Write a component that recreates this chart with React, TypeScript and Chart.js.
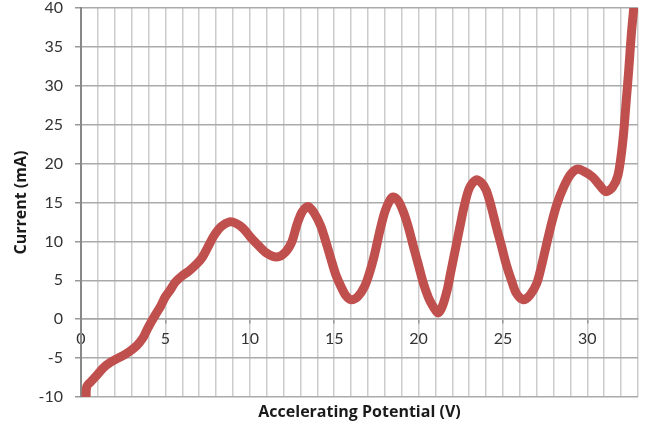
import React, { useEffect, useRef } from "react";
import { Chart, registerables } from "chart.js";

Chart.register(...registerables);

// Accelerating potential (V)
const voltage = [
  0.3, 0.35, 0.6, 0.9, 1.3, 1.7, 2.2, 2.7, 3.3, 3.7, 3.9, 4.2, 4.5, 4.7, 5.0, 5.3, 5.6, 6.0, 6.4, 6.9,
  7.2, 7.5, 7.9, 8.3, 8.8, 9.2, 9.6, 10.1, 10.5, 11.0, 11.6, 12.1, 12.5, 12.8, 13.1, 13.45, 13.8, 14.2, 14.5, 14.8,
  15.1, 15.4, 15.7, 16.0, 16.4, 16.8, 17.1, 17.4, 17.7, 18.0, 18.3, 18.5, 18.8, 19.1, 19.4, 19.7, 20.0, 20.3, 20.6, 20.9,
  21.15, 21.4, 21.7, 21.9, 22.2, 22.45, 22.7, 23.0, 23.4, 23.7, 24.0, 24.3, 24.6, 24.9, 25.2, 25.5, 25.8, 26.2, 26.6, 27.0,
  27.3, 27.6, 27.9, 28.2, 28.6, 29.0, 29.4, 29.8, 30.3, 30.7, 31.1, 31.5, 31.8, 32.0, 32.15, 32.3, 32.45, 32.6, 32.75,
];
// Current (mA)
const current = [
  -10, -8.6, -8.0, -7.3, -6.3, -5.6, -5.0, -4.4, -3.4, -2.3, -1.4, -0.2, 0.9, 1.6, 2.9, 3.8, 4.8, 5.6, 6.2, 7.2,
  8.0, 9.2, 10.8, 11.9, 12.5, 12.3, 11.7, 10.4, 9.5, 8.5, 8.0, 8.6, 10.0, 12.2, 13.8, 14.5, 13.7, 12.0, 10.0, 7.8,
  5.7, 4.2, 3.0, 2.5, 2.9, 4.2, 6.0, 8.4, 11.3, 13.8, 15.3, 15.7, 15.2, 13.8, 11.8, 9.3, 6.9, 4.5, 2.7, 1.5,
  0.8, 1.6, 3.8, 6.0, 9.2, 11.9, 14.5, 16.8, 17.9, 17.6, 16.6, 14.5, 11.9, 9.5, 7.0, 5.0, 3.3, 2.5, 3.1, 4.6,
  7.0, 9.8, 12.5, 14.8, 17.0, 18.6, 19.3, 19.0, 18.3, 17.3, 16.4, 17.0, 18.4, 21.0, 24.0, 28.0, 32.0, 36.5, 40,
];

const xLabeled = [0, 5, 10, 15, 20, 25, 30];
const xTitle = "Accelerating Potential (V)";
const yTitle = "Current (mA)";

const FONT = "Lato, 'Open Sans', sans-serif";
const TITLE_FONT = "'Open Sans', Lato, sans-serif";

const titlePlugin = {
  id: "axisTitles",
  afterDraw(chart: any) {
    const ctx = chart.ctx;
    const area = chart.chartArea;
    ctx.save();
    ctx.fillStyle = "#1a1a1a";
    ctx.font = `bold 16px ${TITLE_FONT}`;
    ctx.textAlign = "center";
    ctx.textBaseline = "middle";
    ctx.fillText(xTitle, (area.left + area.right) / 2, 412);
    ctx.translate(21, (area.top + area.bottom) / 2);
    ctx.rotate(-Math.PI / 2);
    ctx.fillText(yTitle, 0, 0);
    ctx.restore();
  },
};

export default function App() {
  const ref = useRef<HTMLCanvasElement | null>(null);

  useEffect(() => {
    document.body.style.margin = "0";
    const canvas = ref.current;
    if (!canvas) return;
    const data = voltage.map((v, i) => ({ x: v, y: current[i] }));
    const chart = new Chart(canvas, {
      type: "line",
      data: {
        datasets: [
          {
            data,
            borderColor: "#C0504D",
            backgroundColor: "#C0504D",
            borderWidth: 9,
            borderCapStyle: "round",
            borderJoinStyle: "round",
            pointRadius: 0,
            tension: 0.3,
            fill: false,
          },
        ],
      },
      options: {
        animation: false,
        responsive: false,
        devicePixelRatio: 1,
        layout: { padding: { left: 0, top: 8, right: 16, bottom: 28 } },
        plugins: { legend: { display: false }, tooltip: { enabled: false }, title: { display: false } },
        scales: {
          x: {
            type: "linear",
            min: 0,
            max: 33,
            position: { y: 0 } as any,
            afterFit: (s: any) => {
              s.height = 0;
              s.paddingLeft = 0;
              s.paddingRight = 0;
            },
            ticks: {
              stepSize: 1,
              autoSkip: false,
              maxRotation: 0,
              padding: 6,
              color: "#333333",
              font: { family: FONT, size: 16 },
              callback: (v: any) => (xLabeled.includes(Number(v)) ? String(v) : ""),
            },
            grid: {
              color: "#cccccc",
              lineWidth: 1.5,
              tickLength: 4,
              tickColor: (c: any) =>
                c.tick && xLabeled.includes(Number(c.tick.value)) ? "#999999" : "rgba(0,0,0,0)",
            },
            border: { display: true, color: "#a6a6a6", width: 1.5 },
          },
          y: {
            min: -10,
            max: 40,
            afterFit: (s: any) => {
              s.width = 81;
              s.paddingTop = 0;
              s.paddingBottom = 0;
            },
            ticks: {
              stepSize: 5,
              padding: 12,
              color: "#333333",
              font: { family: FONT, size: 16 },
            },
            grid: {
              color: "#aaaaaa",
              lineWidth: 1.5,
              tickLength: 6,
              tickColor: "#999999",
            },
            border: { display: true, color: "#888888", width: 2 },
          },
        },
      } as any,
      plugins: [titlePlugin],
    });
    return () => chart.destroy();
  }, []);

  return (
    <div style={{ width: 654, height: 425 }}>
      <canvas ref={ref} width={654} height={425} />
    </div>
  );
}
